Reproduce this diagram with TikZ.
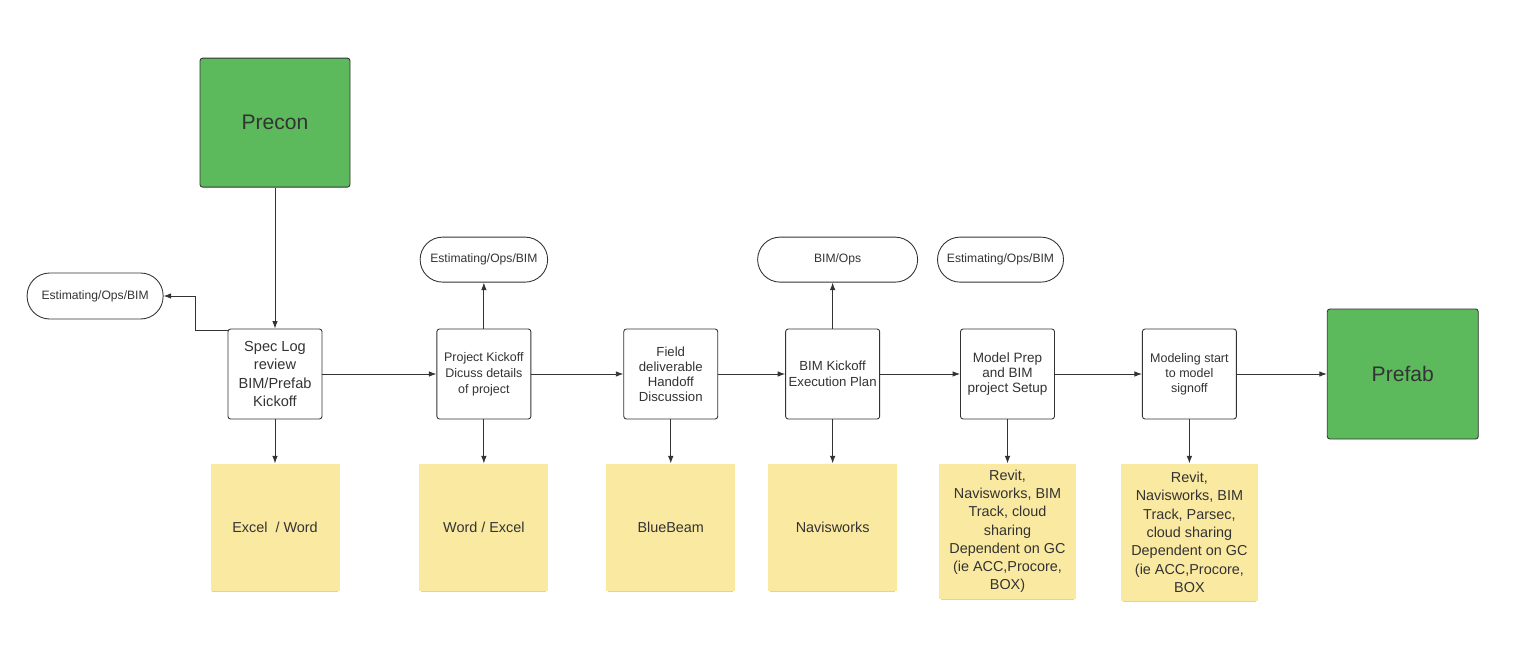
\documentclass[tikz,border=0pt]{standalone}
\usepackage{fontspec}
\setmainfont{Liberation Sans}
\usepackage{xcolor}
\usetikzlibrary{positioning,arrows.meta,shadows}
\definecolor{ink}{RGB}{51,51,51}
\definecolor{leaf}{RGB}{92,186,92}
\definecolor{sticky}{RGB}{250,233,160}

\begin{document}
\begin{tikzpicture}[
  font=\fontsize{7.5}{8.8}\selectfont, text=ink,
  box/.style={draw=ink, line width=0.5pt, rounded corners=1.5pt, fill=white, align=center, inner sep=1pt, minimum width=1.88cm, minimum height=1.8cm},
  boxg/.style={box, fill=leaf, font=\fontsize{12}{14}\selectfont, minimum width=3.02cm, minimum height=2.6cm},
  pill/.style={draw=ink, line width=0.5pt, rounded corners=0.45cm, align=center, font=\fontsize{6.9}{8}\selectfont, minimum width=2.52cm, minimum height=0.9cm},
  note/.style={fill=sticky, align=center, font=\fontsize{8.2}{10.4}\selectfont, minimum width=2.58cm, minimum height=2.54cm, drop shadow={shadow xshift=0pt, shadow yshift=-0.06cm, shadow scale=0.97, opacity=0.3, fill=black!60}},
  arr/.style={draw=ink, line width=0.5pt, -{Latex[length=1.5mm, width=1.1mm]}}
]
\useasboundingbox (0,0) rectangle (30.3,-13.36);

\node[box, font=\fontsize{8.3}{10.6}\selectfont] (spec) at (5.5,-7.48) {Spec Log\\review\\BIM/Prefab\\Kickoff};
\node[box, right=2.28cm of spec, font=\fontsize{7.1}{9}\selectfont] (proj) {Project Kickoff\\Dicuss details\\of project};
\node[box, right=1.84cm of proj, font=\fontsize{7.5}{8.6}\selectfont] (field) {Field\\deliverable\\Handoff\\Discussion};
\node[box, right=1.34cm of field] (bimk) {BIM Kickoff\\Execution Plan};
\node[box, right=1.6cm of bimk, font=\fontsize{7.7}{8.8}\selectfont] (prep) {Model Prep\\and BIM\\project Setup};
\node[box, right=1.74cm of prep, font=\fontsize{7.1}{8.6}\selectfont] (modeling) {Modeling start\\to model\\signoff};
\node[boxg, right=1.8cm of modeling] (prefab) {Prefab};
\node[boxg, above=2.82cm of spec, minimum width=3cm, minimum height=2.58cm] (precon) {Precon};

\node[pill, left=1.28cm of spec, yshift=1.56cm, minimum width=2.72cm, minimum height=0.92cm] (est0) {Estimating/Ops/BIM};
\node[pill, above=0.92cm of proj, minimum width=2.55cm] (est1) {Estimating/Ops/BIM};
\node[pill, above=0.92cm of bimk, xshift=0.1cm, minimum width=3.2cm] (bimops) {BIM/Ops};
\node[pill, above=0.92cm of prep, xshift=-0.14cm] (est2) {Estimating/Ops/BIM};

\node[note, below=0.88cm of spec] (excel) {Excel\ \ / Word};
\node[note, below=0.88cm of proj] (word) {Word / Excel};
\node[note, below=0.88cm of field] (bluebeam) {BlueBeam};
\node[note, below=0.88cm of bimk] (navis) {Navisworks};
\node[note, below=0.88cm of prep, minimum width=2.74cm, minimum height=2.7cm] (tools1) {Revit,\\Navisworks, BIM\\Track, cloud\\sharing\\Dependent on GC\\(ie ACC,Procore,\\BOX)};
\node[note, below=0.88cm of modeling, minimum width=2.74cm, minimum height=2.74cm] (tools2) {Revit,\\Navisworks, BIM\\Track, Parsec,\\cloud sharing\\Dependent on GC\\(ie ACC,Procore,\\BOX};

\draw[arr] (precon) -- (spec);
\draw[arr] (spec) -- (proj);
\draw[arr] (proj) -- (field);
\draw[arr] (field) -- (bimk);
\draw[arr] (bimk) -- (prep);
\draw[arr] (prep) -- (modeling);
\draw[arr] (modeling) -- (prefab);

\draw[arr] ([yshift=-0.04cm]spec.north west) -- ++(-0.64cm,0) |- (est0.east);
\draw[arr] (proj) -- (est1);
\draw[arr] (bimk.north) -- (bimk.north |- bimops.south);

\draw[arr] (spec) -- (excel);
\draw[arr] (proj) -- (word);
\draw[arr] (field) -- (bluebeam);
\draw[arr] (bimk) -- (navis);
\draw[arr] (prep) -- (tools1);
\draw[arr] (modeling) -- (tools2);
\end{tikzpicture}
\end{document}
